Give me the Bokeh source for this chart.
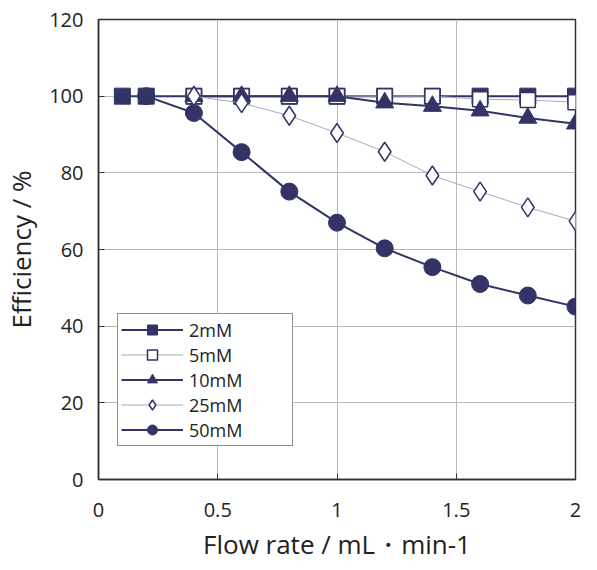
from bokeh.plotting import figure
from bokeh.models import Range1d, Legend, LegendItem, FixedTicker
from bokeh.embed import file_html
from bokeh.resources import INLINE

x_2mM = [0.1, 0.2, 0.4, 0.6, 0.8, 1.0, 1.2, 1.4, 1.6, 1.8, 2.0]
y_2mM = [100, 100, 100, 100, 100, 100, 100, 100, 100, 100, 100]
x_5mM = [0.4, 0.6, 0.8, 1.0, 1.2, 1.4, 1.6, 1.8, 2.0]
y_5mM = [100, 100, 100, 100, 100, 100, 99.2, 99.0, 98.4]
x_10mM = [0.4, 0.6, 0.8, 1.0, 1.2, 1.4, 1.6, 1.8, 2.0]
y_10mM = [100, 100, 100, 100, 98.3, 97.4, 96.2, 94.3, 92.8]
x_25mM = [0.4, 0.6, 0.8, 1.0, 1.2, 1.4, 1.6, 1.8, 2.0]
y_25mM = [100, 98.2, 94.9, 90.4, 85.5, 79.3, 75.1, 71.0, 67.4]
x_50mM = [0.2, 0.4, 0.6, 0.8, 1.0, 1.2, 1.4, 1.6, 1.8, 2.0]
y_50mM = [100, 95.6, 85.4, 75.1, 67.0, 60.3, 55.4, 51.0, 48.0, 45.1]

x_ticks = [0, 0.5, 1, 1.5, 2]
x_tick_labels = {0: "0", 0.5: "0.5", 1: "1", 1.5: "1.5", 2: "2"}
y_ticks = [0, 20, 40, 60, 80, 100, 120]

NAVY = "#333366"
THIN = "#a9a9bd"
FONT = "Open Sans"

W, H = 590, 570
p = figure(width=W, height=H, output_backend="svg", toolbar_location=None,
           x_range=Range1d(0, 2), y_range=Range1d(0, 120),
           min_border_left=97, min_border_right=W - 575, min_border_top=19,
           min_border_bottom=H - 479)
p.outline_line_color = "#333333"
p.outline_line_width = 1.5
p.background_fill_color = "white"
p.border_fill_color = "white"

for ax in (p.xaxis[0], p.yaxis[0]):
    ax.major_tick_in = 6
    ax.major_tick_out = 0
    ax.minor_tick_line_color = None
    ax.axis_line_color = "#333333"
    ax.axis_line_width = 1.5
    ax.major_tick_line_color = "#333333"
    ax.major_label_text_font = FONT
    ax.major_label_text_font_size = "20px"
    ax.major_label_text_color = "#222222"
    ax.axis_label_text_font = FONT
    ax.axis_label_text_font_size = "26px"
    ax.axis_label_text_font_style = "normal"
    ax.axis_label_text_color = "#222222"

p.xaxis[0].ticker = FixedTicker(ticks=x_ticks)
p.xaxis[0].major_label_overrides = x_tick_labels
p.yaxis[0].ticker = FixedTicker(ticks=y_ticks)
p.xaxis[0].major_label_standoff = 23
p.yaxis[0].major_label_standoff = 15
p.xaxis[0].axis_label = "Flow rate / mL・min-1"
p.yaxis[0].axis_label = "Efficiency / %"
p.xaxis[0].axis_label_standoff = 6
p.yaxis[0].axis_label_standoff = 7

p.xgrid.grid_line_color = "#b8b8b8"
p.ygrid.grid_line_color = "#b8b8b8"
p.xgrid.grid_line_width = 1
p.ygrid.grid_line_width = 1

# 50mM drawn first (beneath)
l50 = p.line(x_50mM, y_50mM, line_color=NAVY, line_width=2)
m50 = p.scatter(x_50mM, y_50mM, marker="circle", size=17, fill_color=NAVY, line_color=NAVY)
l2 = p.line(x_2mM, y_2mM, line_color=NAVY, line_width=2)
m2 = p.scatter(x_2mM, y_2mM, marker="square", size=16, fill_color=NAVY, line_color=NAVY)
l5 = p.line(x_5mM, y_5mM, line_color=THIN, line_width=1)
m5 = p.scatter(x_5mM, y_5mM, marker="square", size=15, fill_color="white", line_color=NAVY, line_width=1.5)
l10 = p.line(x_10mM, y_10mM, line_color=NAVY, line_width=2)
m10 = p.scatter(x_10mM, y_10mM, marker="triangle", size=18, fill_color=NAVY, line_color=NAVY)
l25 = p.line(x_25mM, y_25mM, line_color=THIN, line_width=1)
m25 = p.scatter(x_25mM, y_25mM, marker="diamond", size=19, fill_color="white", line_color=NAVY, line_width=1.5)

legend = Legend(items=[
    LegendItem(label="2mM", renderers=[l2, m2]),
    LegendItem(label="5mM", renderers=[l5, m5]),
    LegendItem(label="10mM", renderers=[l10, m10]),
    LegendItem(label="25mM", renderers=[l25, m25]),
    LegendItem(label="50mM", renderers=[l50, m50]),
], location=(19, 33))
legend.border_line_color = "#222222"
legend.border_line_width = 1.2
legend.background_fill_alpha = 1
legend.label_text_font = FONT
legend.label_text_font_size = "18px"
legend.label_text_color = "#222222"
legend.glyph_width = 62
legend.glyph_height = 25
legend.label_height = 25
legend.spacing = 0
legend.padding = 3
legend.margin = 0
legend.label_standoff = 6
legend.label_width = 100
p.add_layout(legend, "center")

open("out.html", "w").write(file_html(p, INLINE))
